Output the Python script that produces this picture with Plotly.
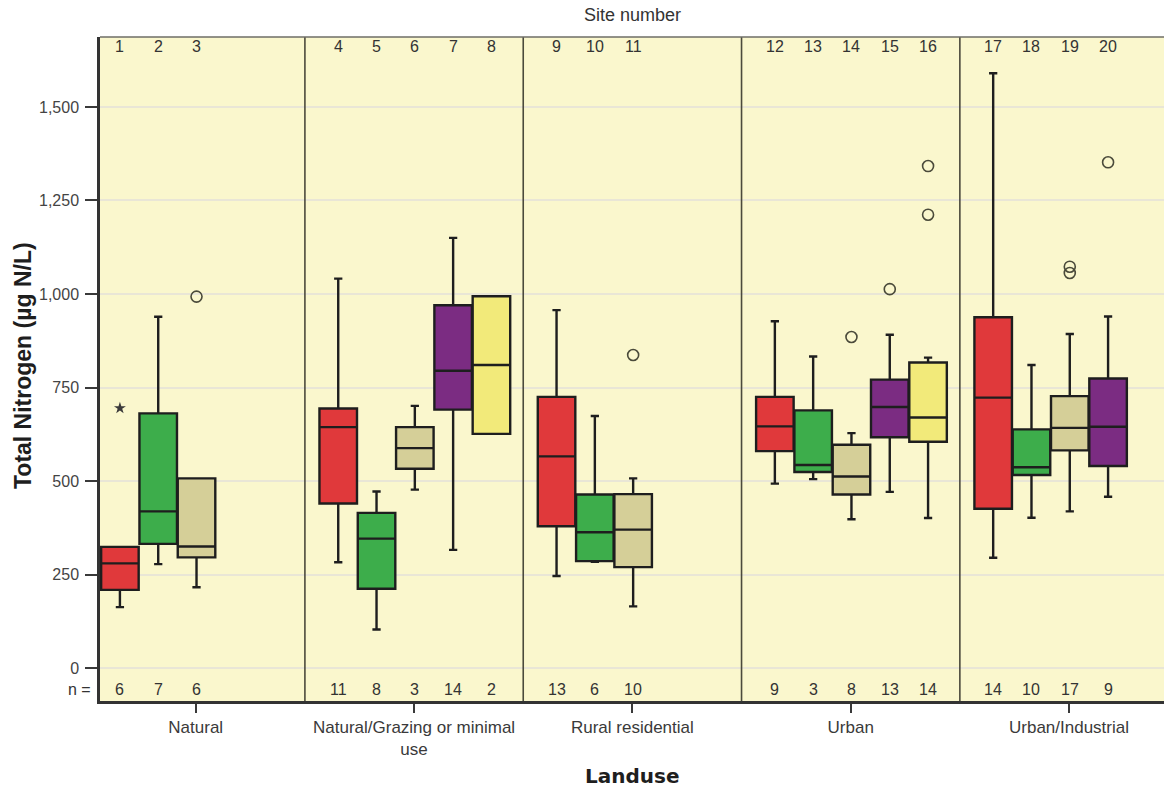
import plotly.graph_objects as go

# Land-use groups and the sites sampled in each
landuse = ["Natural", "Natural/Grazing or minimal<br>use", "Rural residential", "Urban", "Urban/Industrial"]
sites_by_landuse = [[1, 2, 3], [4, 5, 6, 7, 8], [9, 10, 11], [12, 13, 14, 15, 16], [17, 18, 19, 20]]

# Box statistics per site (µg N/L), listed in site order 1..20
lower_whisker = [163, 278, 216, 283, 103, 477, 316, 626, 246, 284, 165, 493, 505, 398, 471, 401, 295, 402, 419, 458]
q1 = [209, 332, 296, 440, 212, 533, 691, 626, 379, 286, 270, 580, 524, 464, 617, 605, 426, 516, 582, 540]
median = [280, 419, 325, 644, 346, 588, 795, 810, 566, 363, 370, 646, 543, 512, 698, 670, 723, 537, 642, 645]
q3 = [324, 681, 507, 694, 415, 644, 970, 994, 725, 464, 465, 725, 689, 597, 771, 817, 938, 638, 727, 774]
upper_whisker = [324, 939, 507, 1041, 472, 701, 1150, 994, 957, 674, 507, 927, 833, 628, 891, 830, 1590, 810, 893, 940]
n_obs = [6, 7, 6, 11, 8, 3, 14, 2, 13, 6, 10, 9, 3, 8, 13, 14, 14, 10, 17, 9]

# Outliers (circles) and extreme values (stars): (site, value)
outliers = [(3, 993), (11, 837), (14, 885), (15, 1013), (16, 1212), (16, 1342), (19, 1056), (19, 1073), (20, 1352)]
extremes = [(1, 695)]

# Fill colours by position within a land-use cluster
palette = ["#E0393B", "#3DAD4B", "#D5CF98", "#7B2C82", "#F2EA7A"]

PANEL = 5.7      # width of one land-use panel, in box slots
PAD = 0.37       # gap before the first box of a panel
ORIGIN = -0.35   # left edge of the first panel
X_MAX = 27.78
Y_RANGE = [-88, 1687]

TEXT_FONT = "Liberation Sans, Arial"

def panel_start(k):
    return ORIGIN + k * PANEL

site_x = {}
site_color = {}
for k, group in enumerate(sites_by_landuse):
    for i, s in enumerate(group):
        site_x[s] = panel_start(k) + PAD + 0.5 + i
        site_color[s] = palette[i]

fig = go.Figure()

for idx in range(20):
    s = idx + 1
    fig.add_trace(go.Box(
        x=[site_x[s]],
        q1=[q1[idx]], median=[median[idx]], q3=[q3[idx]],
        lowerfence=[lower_whisker[idx]], upperfence=[upper_whisker[idx]],
        width=0.98,
        whiskerwidth=0.22,
        fillcolor=site_color[s],
        line=dict(color="#1E1E1E", width=2.4),
        boxpoints=False,
        hoverinfo="skip",
        showlegend=False,
    ))

fig.add_trace(go.Scatter(
    x=[site_x[s] for s, v in outliers], y=[v for s, v in outliers],
    mode="markers",
    marker=dict(symbol="circle-open", size=11, color="#4A4A3A", line=dict(width=1.6)),
    showlegend=False, hoverinfo="skip",
))
fig.add_trace(go.Scatter(
    x=[site_x[s] for s, v in extremes], y=[v for s, v in extremes],
    mode="markers",
    marker=dict(symbol="star", size=9, color="#3A3A3A"),
    showlegend=False, hoverinfo="skip",
))

shapes = []
# Vertical separators between land-use panels
for k in range(1, len(landuse)):
    xb = panel_start(k)
    shapes.append(dict(type="line", xref="x", yref="paper", x0=xb, x1=xb, y0=0, y1=1,
                       line=dict(color="#4B4A3C", width=1.6), layer="above"))
# Top frame line
shapes.append(dict(type="line", xref="paper", yref="paper", x0=0, x1=1, y0=1, y1=1,
                   line=dict(color="#6E6E66", width=1.5)))

annotations = []
for s in range(1, 21):
    annotations.append(dict(x=site_x[s], y=0.985, xref="x", yref="paper", text=str(s),
                            showarrow=False, yanchor="middle",
                            font=dict(family=TEXT_FONT, size=16, color="#333333")))
    annotations.append(dict(x=site_x[s], y=0.018, xref="x", yref="paper", text=str(n_obs[s - 1]),
                            showarrow=False, yanchor="middle",
                            font=dict(family=TEXT_FONT, size=16, color="#333333")))
annotations.append(dict(x=-0.019, y=0.018, xref="paper", yref="paper", text="n =",
                        showarrow=False, xanchor="center", yanchor="middle",
                        font=dict(family=TEXT_FONT, size=16, color="#333333")))
annotations.append(dict(x=0.5, y=1.0, xref="paper", yref="paper", yshift=22, text="Site number",
                        showarrow=False, xanchor="center", yanchor="middle",
                        font=dict(family=TEXT_FONT, size=18, color="#333333")))
annotations.append(dict(x=0.5, y=0, xref="paper", yref="paper", yshift=-75, text="Landuse",
                        showarrow=False, xanchor="center", yanchor="middle",
                        font=dict(family="DejaVu Sans", size=20, color="#1E1E1E", weight="bold")))
annotations.append(dict(x=-0.073, y=0.505, xref="paper", yref="paper", text="Total Nitrogen (µg N/L)",
                        showarrow=False, textangle=-90, xanchor="center", yanchor="middle",
                        font=dict(family=TEXT_FONT, size=23, color="#1E1E1E", weight="bold")))

fig.update_layout(
    width=1164, height=792,
    margin=dict(l=100, r=0, t=37, b=91),
    paper_bgcolor="white",
    plot_bgcolor="#FAF7CD",
    shapes=shapes,
    annotations=annotations,
    font=dict(family=TEXT_FONT, color="#444444"),
)
fig.update_xaxes(
    range=[0, X_MAX],
    tickvals=[panel_start(k) + PANEL / 2 for k in range(len(landuse))],
    ticktext=landuse,
    ticks="outside", ticklen=9, tickwidth=2, tickcolor="#3A3A3A",
    tickfont=dict(size=17, color="#3A3A3A"),
    showgrid=False, zeroline=False,
    showline=True, linecolor="#333333", linewidth=2.5,
)
fig.update_yaxes(
    range=Y_RANGE,
    tickvals=[0, 250, 500, 750, 1000, 1250, 1500],
    tickformat=",",
    ticks="outside", ticklen=12, tickwidth=2, tickcolor="#3A3A3A",
    ticklabelstandoff=3,
    tickfont=dict(size=16, color="#444444"),
    showgrid=True, gridcolor="#E9E6D6", gridwidth=2,
    zeroline=False,
    showline=True, linecolor="#333333", linewidth=2.5,
)

fig.write_html("out.html")
